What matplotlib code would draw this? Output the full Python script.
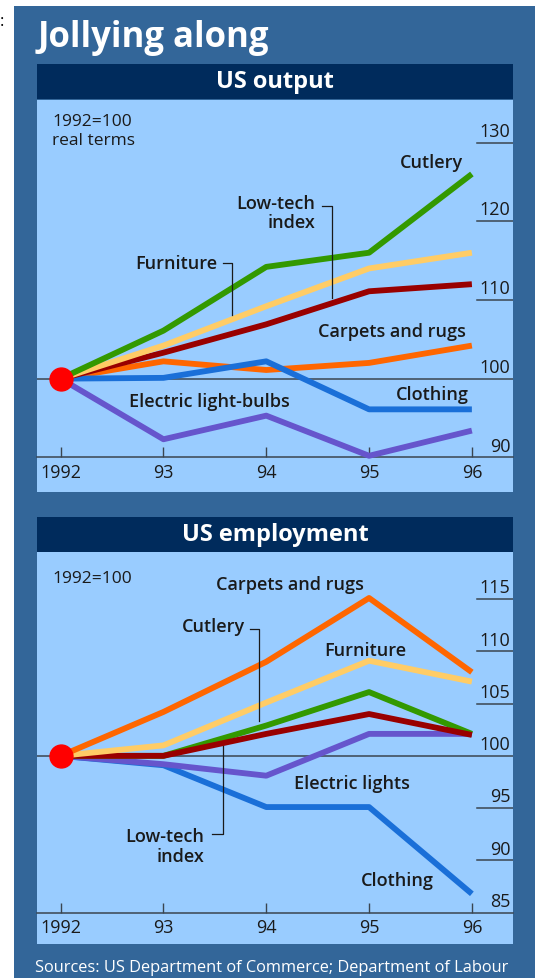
import matplotlib
matplotlib.use("Agg")
import matplotlib.pyplot as plt
from matplotlib.patches import Rectangle

plt.rcParams["font.family"] = ["Open Sans", "DejaVu Sans"]

W, H = 535, 979

years = [1992, 1993, 1994, 1995, 1996]
year_labels = ["1992", "93", "94", "95", "96"]

# US output, 1992=100, real terms
out_cutlery = [100, 106.1, 114.2, 116.0, 126.0]
out_furniture = [100, 104.2, 109.2, 114.0, 116.0]
out_lowtech = [100, 103.3, 106.9, 111.1, 112.0]
out_carpets = [100, 102.2, 101.1, 102.0, 104.2]
out_clothing = [100, 100.1, 102.2, 96.1, 96.1]
out_bulbs = [100, 92.3, 95.3, 90.2, 93.4]
out_ticks = [130, 120, 110, 100, 90]

# US employment, 1992=100
emp_carpets = [100, 104.2, 109.0, 115.1, 108.0]
emp_furniture = [100, 101.0, 105.1, 109.1, 107.1]
emp_cutlery = [100, 100.0, 102.9, 106.1, 102.1]
emp_lowtech = [100, 100.0, 102.1, 104.0, 102.0]
emp_lights = [100, 99.2, 98.1, 102.1, 102.1]
emp_clothing = [100, 99.1, 95.1, 95.1, 86.8]
emp_ticks = [115, 110, 105, 100, 95, 90, 85]

GREEN = "#339900"
YELLOW = "#FFCC66"
DARKRED = "#990000"
ORANGE = "#FF6600"
BLUE = "#1A6FD8"
PURPLE = "#6655CC"
PANEL = "#336699"
NAVY = "#002B5C"
LIGHT = "#99CCFF"
INK = "#1a1a1a"
RULE = "#3a4550"
LW = 4.2


def fig_rect(x0, y0, x1, y1):
    # pixel box (top-left origin) -> figure fraction rect
    return [x0 / W, 1 - y1 / H, (x1 - x0) / W, (y1 - y0) / H]


def setup_axes(fig, rect, ylim, base, ticks):
    ax = fig.add_axes(rect)
    ax.set_facecolor(LIGHT)
    ax.set_xlim(1991.77, 1996.4)
    ax.set_ylim(*ylim)
    for s in ["top", "right", "left"]:
        ax.spines[s].set_visible(False)
    ax.spines["bottom"].set_position(("data", base))
    ax.spines["bottom"].set_color(RULE)
    ax.spines["bottom"].set_linewidth(1.1)
    ax.set_xticks(years, year_labels)
    ax.tick_params(axis="x", direction="in", length=7, width=1,
                   pad=4, labelsize=13, colors=RULE, labelcolor=INK)
    ax.set_yticks([])
    ax.axhline(100, color=RULE, lw=1.1, zorder=1)
    trans = ax.get_yaxis_transform()
    for t in ticks:
        if t not in (100, base):
            ax.plot([0.924, 1.0], [t, t], transform=trans,
                    color=RULE, lw=1.1, zorder=1)
        ax.annotate(str(t), xy=(0.994, t), xycoords=trans, xytext=(0, 2),
                    textcoords="offset points", ha="right", va="bottom",
                    fontsize=13, color=INK)
    return ax


def label(ax, x, y, s, ha="center"):
    ax.text(x, y, s, ha=ha, va="center", fontsize=13,
            fontweight="semibold", color=INK, zorder=6)


def main():
    fig = plt.figure(figsize=(W / 100, H / 100), dpi=100)
    fig.patch.set_facecolor("white")

    fig.patches.append(Rectangle((14 / W, 0), 1 - 14 / W, 1 - 7 / H,
                                 transform=fig.transFigure, zorder=-10,
                                 facecolor=PANEL, edgecolor="none"))
    fig.text(0 / W, 1 - 22 / H, ":", fontsize=12, color="black",
             va="center", ha="left")
    fig.text(38 / W, 1 - 38 / H, "Jollying along", fontsize=25,
             fontweight="bold", color="white", va="center", ha="left")

    # headers
    for y0, y1, title in [(65, 100, "US output"), (518, 553, "US employment")]:
        x0, yb, w, h = fig_rect(37, y0, 513, y1)
        fig.patches.append(Rectangle((x0, yb), w, h, transform=fig.transFigure,
                                     zorder=-9, facecolor=NAVY, edgecolor="none"))
        fig.text(275 / W, 1 - (y0 + y1) / 2 / H, title, fontsize=17,
                 fontweight="bold", color="white", ha="center", va="center")

    # ---- US output ----
    ax1 = setup_axes(fig, fig_rect(37, 101, 513, 493), (85.6, 135.4), 90, out_ticks)
    for vals, col in [(out_bulbs, PURPLE), (out_carpets, ORANGE),
                      (out_clothing, BLUE), (out_lowtech, DARKRED),
                      (out_furniture, YELLOW), (out_cutlery, GREEN)]:
        ax1.plot(years, vals, color=col, lw=LW, solid_capstyle="butt",
                 solid_joinstyle="round", zorder=3)
    ax1.plot(1992, 100, "o", color="#FF0000", ms=16.5, zorder=8, clip_on=False)

    ax1.text(0.0315, 0.946, "1992=100", transform=ax1.transAxes, fontsize=12.5,
             va="center", ha="left", color=INK)
    ax1.text(0.0315, 0.898, "real terms", transform=ax1.transAxes, fontsize=12.5,
             va="center", ha="left", color=INK)
    label(ax1, 1995.61, 127.5, "Cutlery")
    label(ax1, 1994.48, 122.3, "Low-tech", ha="right")
    label(ax1, 1994.48, 119.9, "index", ha="right")
    ax1.plot([1994.54, 1994.64, 1994.64], [121.9, 121.9, 110.3],
             color=INK, lw=0.9, zorder=5)
    label(ax1, 1993.52, 114.7, "Furniture", ha="right")
    ax1.plot([1993.58, 1993.67, 1993.67], [114.7, 114.7, 108.1],
             color=INK, lw=0.9, zorder=5)
    label(ax1, 1995.22, 106.1, "Carpets and rugs")
    label(ax1, 1995.62, 98.1, "Clothing")
    label(ax1, 1993.45, 97.1, "Electric light-bulbs")

    # ---- US employment ----
    ax2 = setup_axes(fig, fig_rect(37, 553, 513, 945), (82.0, 119.5), 85, emp_ticks)
    for vals, col in [(emp_clothing, BLUE), (emp_lights, PURPLE),
                      (emp_cutlery, GREEN), (emp_lowtech, DARKRED),
                      (emp_furniture, YELLOW), (emp_carpets, ORANGE)]:
        ax2.plot(years, vals, color=col, lw=LW, solid_capstyle="butt",
                 solid_joinstyle="round", zorder=3)
    ax2.plot(1992, 100, "o", color="#FF0000", ms=16.5, zorder=8, clip_on=False)

    ax2.text(0.0315, 0.934, "1992=100", transform=ax2.transAxes, fontsize=12.5,
             va="center", ha="left", color=INK)
    label(ax2, 1994.23, 116.4, "Carpets and rugs")
    label(ax2, 1993.79, 112.4, "Cutlery", ha="right")
    ax2.plot([1993.84, 1993.93, 1993.93], [112.1, 112.1, 103.3],
             color=INK, lw=0.9, zorder=5)
    label(ax2, 1994.96, 110.1, "Furniture")
    label(ax2, 1994.83, 97.4, "Electric lights")
    label(ax2, 1993.40, 92.35, "Low-tech", ha="right")
    label(ax2, 1993.40, 90.4, "index", ha="right")
    ax2.plot([1993.47, 1993.58, 1993.58], [92.5, 92.5, 100.9],
             color=INK, lw=0.9, zorder=5)
    label(ax2, 1995.28, 88.1, "Clothing")

    fig.text(35 / W, 1 - 968 / H,
             "Sources: US Department of Commerce; Department of Labour",
             fontsize=11.8, color="white", ha="left", va="center")

    fig.savefig("out.png", dpi=100)


if __name__ == "__main__":
    main()
